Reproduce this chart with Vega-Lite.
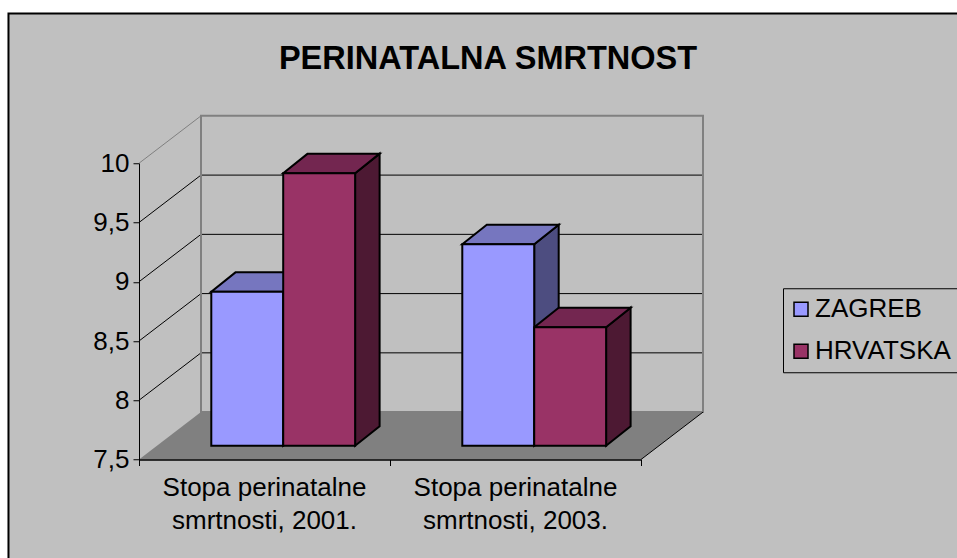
{
"$schema":"https://vega.github.io/schema/vega-lite/v6.json",
"width":502,"height":296.25,
"autosize":{"type":"none"},
"padding":{"left":139,"top":163.25,"right":316,"bottom":98.5},
"background":"#ffffff",
"view":{"stroke":null},
"title":{"text":"PERINATALNA SMRTNOST","font":"Liberation Sans","fontSize":32.5,"fontWeight":"bold","color":"#000000","anchor":"middle","frame":"group","dx":98,"offset":-63},
"config":{"font":"Liberation Sans"},
"datasets":{
"bars":[
{"period":"2001","series":"ZAGREB","value":8.8,"group":0,"slot":0},
{"period":"2001","series":"HRVATSKA","value":9.8,"group":0,"slot":1},
{"period":"2003","series":"ZAGREB","value":9.2,"group":1,"slot":0},
{"period":"2003","series":"HRVATSKA","value":8.5,"group":1,"slot":1}
],
"categories":[
{"pos":0.5,"label":"Stopa perinatalne\nsmrtnosti, 2001."},
{"pos":1.5,"label":"Stopa perinatalne\nsmrtnosti, 2003."}
],
"levels":[{"level":8},{"level":8.5},{"level":9},{"level":9.5},{"level":10}],
"panel":[{"left":-0.52,"right":3.27,"top":11.264,"bottom":6.643}],
"floor":[{"depth":0,"y":7.5,"a":0,"b":2},{"depth":1,"y":7.9,"a":0.247,"b":2.247}],
"wall":[{"a":0.247,"b":2.247,"low":7.9,"high":10.4}],
"edge":[{"x":2,"y":7.5},{"x":2.247,"y":7.9}]
},
"layer":[
{"data":{"name":"panel"},"mark":{"type":"rect","fill":"#C0C0C0","stroke":"#000000","strokeWidth":2,"clip":false},
"encoding":{"x":{"field":"left","type":"quantitative","scale":{"domain":[0,2],"nice":false,"zero":false},
"axis":{"title":null,"values":[0,1,2],"labels":false,"ticks":true,"tickSize":6,"tickColor":"#000000","domainColor":"#000000","domainWidth":1.5,"grid":false,"zindex":1}},
"x2":{"field":"right"},
"y":{"field":"top","type":"quantitative","scale":{"domain":[7.5,10],"nice":false,"zero":false},
"axis":{"title":null,"values":[7.5,8,8.5,9,9.5,10],"labelExpr":"replace(format(datum.value,'.1~f'),'.',',')","labelFont":"Liberation Sans","labelFontSize":26,"labelColor":"#000000","labelPadding":4,"tickSize":6,"tickColor":"#000000","domainColor":"#000000","domainWidth":1,"grid":false,"zindex":1,"labelOverlap":false,"labelFlush":false}},
"y2":{"field":"bottom"}}},
{"data":{"name":"floor"},"mark":{"type":"area","orient":"horizontal","fill":"#808080","clip":false},
"encoding":{"y":{"field":"y","type":"quantitative"},"x":{"field":"a","type":"quantitative"},"x2":{"field":"b"}}},
{"data":{"name":"levels"},"transform":[{"filter":"datum.level<10"},{"calculate":"datum.level+0.4","as":"wallY"}],"mark":{"type":"rule","stroke":"#000000","strokeWidth":1,"clip":false},
"encoding":{"x":{"datum":0.247,"type":"quantitative"},"x2":{"datum":2.247},"y":{"field":"wallY","type":"quantitative"}}},
{"data":{"name":"levels"},"transform":[{"calculate":"[0,1]","as":"d"},{"flatten":["d"]},{"calculate":"datum.d*0.247","as":"px"},{"calculate":"datum.level+datum.d*0.4","as":"py"}],
"mark":{"type":"line","strokeWidth":1,"clip":false},
"encoding":{"x":{"field":"px","type":"quantitative"},"y":{"field":"py","type":"quantitative"},"detail":{"field":"level"},
"color":{"condition":{"test":"datum.level==10","value":"#808080"},"value":"#000000"}}},
{"data":{"name":"wall"},"mark":{"type":"rect","fill":"transparent","stroke":"#808080","strokeWidth":2,"clip":false},
"encoding":{"x":{"field":"a","type":"quantitative"},"x2":{"field":"b"},"y":{"field":"high","type":"quantitative"},"y2":{"field":"low"}}},
{"data":{"name":"edge"},"mark":{"type":"line","stroke":"#000000","strokeWidth":1,"clip":false},
"encoding":{"x":{"field":"x","type":"quantitative"},"y":{"field":"y","type":"quantitative"}}},
{"data":{"name":"bars"},
"transform":[{"calculate":"[0,1]","as":"d"},{"flatten":["d"]},
{"calculate":"datum.group+0.288+(datum.slot+1)*0.2865+datum.d*0.0976","as":"sx"},
{"calculate":"datum.value+0.116+datum.d*0.165","as":"st"},
{"calculate":"7.616+datum.d*0.165","as":"sb"},
{"calculate":"datum.period+datum.series","as":"bar"}],
"mark":{"type":"area","orient":"vertical","stroke":"#000000","strokeWidth":2,"clip":false},
"encoding":{"x":{"field":"sx","type":"quantitative"},"y":{"field":"st","type":"quantitative"},"y2":{"field":"sb"},"detail":{"field":"bar"},
"color":{"field":"series","type":"nominal","legend":null,"scale":{"domain":["ZAGREB","HRVATSKA"],"range":["#4D4D80","#4D1933"]}}}},
{"data":{"name":"bars"},
"transform":[{"calculate":"[0,1]","as":"d"},{"flatten":["d"]},
{"calculate":"datum.group+0.288+datum.slot*0.2865+datum.d*0.0976","as":"ta"},
{"calculate":"datum.group+0.288+(datum.slot+1)*0.2865+datum.d*0.0976","as":"tb"},
{"calculate":"datum.value+0.116+datum.d*0.165","as":"ty"},
{"calculate":"datum.period+datum.series","as":"bar"}],
"mark":{"type":"area","orient":"horizontal","stroke":"#000000","strokeWidth":2,"clip":false},
"encoding":{"y":{"field":"ty","type":"quantitative"},"x":{"field":"ta","type":"quantitative"},"x2":{"field":"tb"},"detail":{"field":"bar"},
"color":{"field":"series","type":"nominal","legend":null,"scale":{"domain":["ZAGREB","HRVATSKA"],"range":["#7676BF","#732650"]}}}},
{"data":{"name":"bars"},
"transform":[
{"calculate":"datum.group+0.288+datum.slot*0.2865","as":"fa"},
{"calculate":"datum.group+0.288+(datum.slot+1)*0.2865","as":"fb"},
{"calculate":"datum.value+0.116","as":"ft"}],
"mark":{"type":"rect","stroke":"#000000","strokeWidth":2,"clip":false},
"encoding":{"x":{"field":"fa","type":"quantitative"},"x2":{"field":"fb"},"y":{"field":"ft","type":"quantitative"},"y2":{"datum":7.616},
"color":{"field":"series","type":"nominal","sort":null,"scale":{"domain":["ZAGREB","HRVATSKA"],"range":["#9999FF","#993366"]},
"legend":{"title":null,"orient":"none","legendX":644,"legendY":125,"symbolType":"square","symbolSize":196,"symbolStrokeColor":"#000000","symbolStrokeWidth":1.5,"symbolOpacity":1,"symbolOffset":-3,"labelFont":"Liberation Sans","labelFontSize":26,"labelColor":"#000000","labelOffset":1,"labelLimit":200,"rowPadding":16,"padding":8,"strokeColor":"#000000","fillColor":"#C0C0C0","cornerRadius":0}}}},
{"data":{"name":"categories"},"mark":{"type":"text","lineBreak":"\n","align":"center","baseline":"top","font":"Liberation Sans","fontSize":26,"lineHeight":33.5,"fill":"#000000","dy":15,"clip":false},
"encoding":{"x":{"field":"pos","type":"quantitative"},"y":{"datum":7.5,"type":"quantitative"},"text":{"field":"label"}}}
],
"resolve":{"scale":{"color":"independent"},"legend":{"color":"independent"}}
}
